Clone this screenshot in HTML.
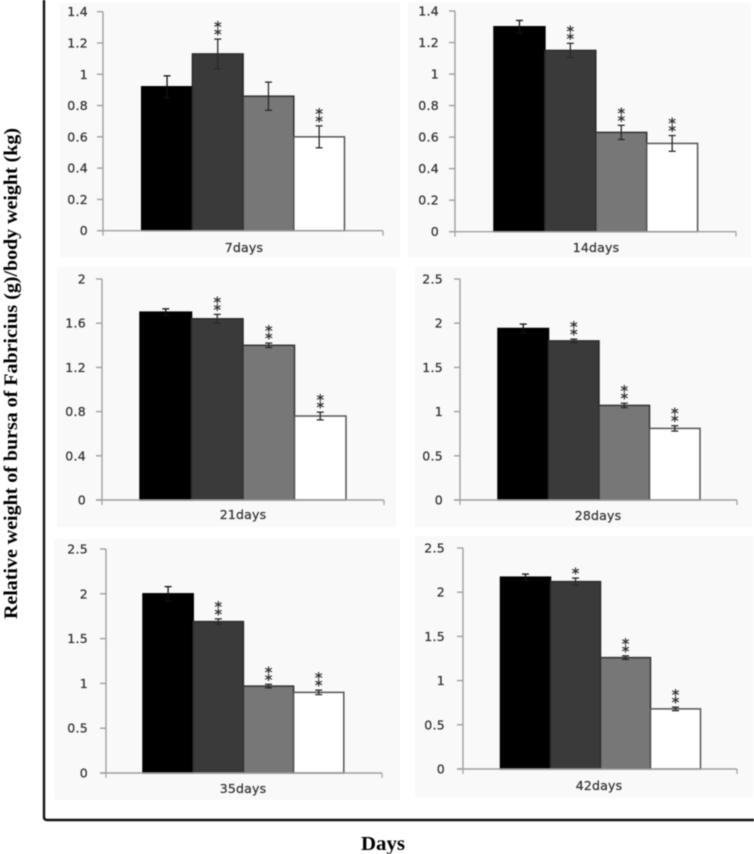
<!DOCTYPE html>
<html lang="en">
<head>
<meta charset="utf-8">
<title>Relative weight of bursa of Fabricius by day</title>
<style>
html,body{margin:0;padding:0;background:#fff;width:754px;height:854px;overflow:hidden}
svg{display:block;filter:blur(0.55px)}
.tick{font:12.5px "DejaVu Sans",sans-serif;fill:#333;stroke:#333;stroke-width:.25px;letter-spacing:.3px}
.cat{font:12.5px "DejaVu Sans",sans-serif;fill:#333;stroke:#333;stroke-width:.25px;letter-spacing:.2px}
.star{font:bold 15px "DejaVu Sans",sans-serif;fill:#333}
.title{font:bold 19px "Liberation Serif",serif;fill:#000}
.days{font:bold 20px "Liberation Serif",serif;fill:#000}
</style>
</head>
<body>
<svg id="figure" width="754" height="854" viewBox="0 0 754 854" xmlns="http://www.w3.org/2000/svg">
  <path d="M44 0V817Q44 820 47 820H754" fill="none" stroke="#111" stroke-width="2.4"/>
  <text class="title" transform="translate(17,619) rotate(-90)" textLength="491" lengthAdjust="spacingAndGlyphs">Relative weight of bursa of Fabricius (g)/body weight (kg)</text>
  <text class="days" x="361" y="850" textLength="44" lengthAdjust="spacingAndGlyphs">Days</text>
</svg>
<script>
const categories = ['7days', '14days', '21days', '28days', '35days', '42days'];
const values7days = [0.92, 1.13, 0.86, 0.60];
const values14days = [1.30, 1.15, 0.63, 0.56];
const values21days = [1.70, 1.64, 1.40, 0.76];
const values28days = [1.94, 1.80, 1.07, 0.81];
const values35days = [2.00, 1.69, 0.97, 0.90];
const values42days = [2.17, 2.12, 1.26, 0.68];
const errors7days = [0.07, 0.095, 0.09, 0.07];
const errors14days = [0.04, 0.045, 0.045, 0.05];
const errors21days = [0.03, 0.04, 0.02, 0.035];
const errors28days = [0.05, 0.02, 0.025, 0.03];
const errors35days = [0.08, 0.03, 0.02, 0.025];
const errors42days = [0.035, 0.04, 0.02, 0.02];
const stars7days = [0, 2, 0, 2];
const stars14days = [0, 2, 2, 2];
const stars21days = [0, 2, 2, 2];
const stars28days = [0, 2, 2, 2];
const stars35days = [0, 2, 2, 2];
const stars42days = [0, 1, 2, 2];
const ticks14 = ['0', '0.2', '0.4', '0.6', '0.8', '1', '1.2', '1.4'];
const ticks20 = ['0', '0.4', '0.8', '1.2', '1.6', '2'];
const ticks25 = ['0', '0.5', '1', '1.5', '2', '2.5'];

const allValues = [values7days, values14days, values21days, values28days, values35days, values42days];
const allErrors = [errors7days, errors14days, errors21days, errors28days, errors35days, errors42days];
const allStars = [stars7days, stars14days, stars21days, stars28days, stars35days, stars42days];
const allTicks = [ticks14, ticks14, ticks20, ticks25, ticks25, ticks25];

const seriesFill = ['#000000', '#3a3a3a', '#777777', '#ffffff'];
const seriesStroke = ['#000000', '#2c2c2c', '#333333', '#555555'];
const panelBoxes = [
  {bg:[60,3,400,258], ax:103, right:383, top:11.7, zero:230.7, bar0:141.7, barW:50.7, lx:244, ly:252, lo:15},
  {bg:[408,3,751,258], ax:455, right:736, top:11, zero:231.7, bar0:494, barW:50.9, lx:596, ly:252, lo:16},
  {bg:[57,267,396,527], ax:102, right:384, top:279, zero:500, bar0:140, barW:51.5, lx:243, ly:519, lo:16},
  {bg:[415,267,752,527], ax:460, right:737, top:279, zero:500, bar0:498, barW:50.5, lx:598, ly:520, lo:17},
  {bg:[54,539,400,800], ax:106, right:382, top:549, zero:773, bar0:143, barW:50.2, lx:243, ly:793, lo:18},
  {bg:[415,536,753,797], ax:463, right:737, top:548, zero:769, bar0:500.5, barW:50, lx:599, ly:790, lo:18}
];

const NS = 'http://www.w3.org/2000/svg';
const svg = document.getElementById('figure');
function make(parent, tag, attrs, text) {
  const el = document.createElementNS(NS, tag);
  for (const k in attrs) el.setAttribute(k, attrs[k]);
  if (text !== undefined) el.textContent = text;
  parent.appendChild(el);
  return el;
}
function drawLine(parent, x1, y1, x2, y2, stroke, width) {
  return make(parent, 'line', {x1: x1, y1: y1, x2: x2, y2: y2, stroke: stroke, 'stroke-width': width});
}

categories.forEach(function (cat, p) {
  const box = panelBoxes[p];
  const vals = allValues[p];
  const errs = allErrors[p];
  const stars = allStars[p];
  const ticks = allTicks[p];
  const yMax = parseFloat(ticks[ticks.length - 1]);
  const yScale = function (v) { return box.zero - (v / yMax) * (box.zero - box.top); };
  const xScale = function (i) { return box.bar0 + i * box.barW; };

  const g = make(svg, 'g', {});
  
  

  const bg = make(g, 'rect', {x: box.bg[0], y: box.bg[1], width: box.bg[2] - box.bg[0], height: box.bg[3] - box.bg[1], fill: '#f9f9f9'});
  
  

  const yAxis = drawLine(g, box.ax, box.top, box.ax, box.zero, '#a0a0a0', 1.4);
  
  

  ticks.forEach(function (t) {
    const y = yScale(parseFloat(t));
    const mark = drawLine(g, box.ax - 6, y, box.ax, y, '#a0a0a0', 1.4);
    
    
    const label = make(g, 'text', {x: box.ax - box.lo, y: y + 4.5, 'text-anchor': 'end', class: 'tick'}, t);
    
    
  });

  vals.forEach(function (v, i) {
    const y = yScale(v);
    const bar = make(g, 'rect', {x: xScale(i), y: y, width: box.barW, height: box.zero - y, fill: seriesFill[i], stroke: seriesStroke[i], 'stroke-width': 1.5});
    
    
  });

  const xAxis = drawLine(g, box.ax - 6, box.zero, box.right, box.zero, '#a0a0a0', 1.4);
  
  
  const leftEnd = drawLine(g, box.ax, box.zero, box.ax, box.zero + 5, '#a0a0a0', 1.2);
  
  
  const rightEnd = drawLine(g, box.right, box.zero, box.right, box.zero + 5, '#a0a0a0', 1.2);
  
  

  vals.forEach(function (v, i) {
    const cx = xScale(i) + box.barW / 2;
    const hi = yScale(v + errs[i]);
    const lo = yScale(v - errs[i]);
    const color = i === 0 ? '#111111' : '#2a2a2a';
    const stem = drawLine(g, cx, hi, cx, lo, color, 1.3);
    
    
    const capTop = drawLine(g, cx - 3.5, hi, cx + 3.5, hi, color, 1.3);
    
    
    const capBottom = drawLine(g, cx - 3.5, lo, cx + 3.5, lo, color, 1.3);
    
    
    for (let s = 0; s < stars[i]; s++) {
      const starY = hi + 0.5 - s * 7.5;
      const star = make(g, 'text', {x: cx, y: starY, 'text-anchor': 'middle', class: 'star'}, '*');
      
      
    }
  });

  const catLabel = make(g, 'text', {x: box.lx, y: box.ly, 'text-anchor': 'middle', class: 'cat'}, cat);
  
  
});
</script>
</body>
</html>
